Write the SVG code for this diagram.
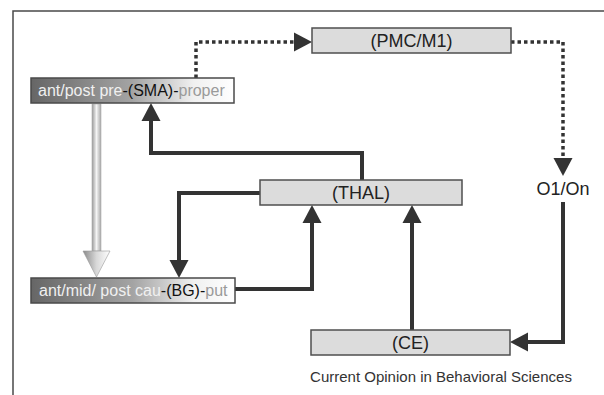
<svg xmlns="http://www.w3.org/2000/svg" width="604" height="395" viewBox="0 0 604 395">
<defs>
<style>
.frame{fill:none;stroke:#4a4a4a;stroke-width:1.5}
.box{fill:#dcdcdc;stroke:#4f4f4f;stroke-width:1.5}
.gbox{fill:url(#gbox);stroke:#4a4a4a;stroke-width:1.5}
.conn{fill:none;stroke:#333;stroke-width:4;stroke-linejoin:miter}
.dot{fill:none;stroke:#333;stroke-width:3.5;stroke-dasharray:3.5 3}
.lbl{font-family:"Liberation Sans",Arial,sans-serif;font-size:18px;fill:#222}
.glbl{font-family:"Liberation Sans",Arial,sans-serif;font-size:16px}
.cap{font-family:"Liberation Sans",Arial,sans-serif;font-size:15px;fill:#333}
</style>
<linearGradient id="gbox" x1="0" y1="0" x2="1" y2="0">
<stop offset="0" stop-color="#666666"/>
<stop offset="0.5" stop-color="#a4a4a4"/>
<stop offset="0.8" stop-color="#f0f0f0"/>
<stop offset="1" stop-color="#ffffff"/>
</linearGradient>
<linearGradient id="shaft" x1="0" y1="0" x2="1" y2="0">
<stop offset="0" stop-color="#9a9a9a"/>
<stop offset="0.5" stop-color="#f4f4f4"/>
<stop offset="1" stop-color="#a8a8a8"/>
</linearGradient>
<linearGradient id="head" x1="0" y1="0" x2="1" y2="0">
<stop offset="0" stop-color="#8a8a8a"/>
<stop offset="0.5" stop-color="#d8d8d8"/>
<stop offset="1" stop-color="#ffffff"/>
</linearGradient>
<marker id="ah" markerUnits="userSpaceOnUse" markerWidth="20" markerHeight="20" refX="0" refY="10" orient="auto">
<path d="M0,0.5 L18,10 L0,19.5 Z" fill="#333"/>
</marker>
</defs>
<rect width="604" height="395" fill="#fff"/>
<path class="frame" d="M13,395 V11 H604"/>

<g id="connectors">
<path class="dot" d="M196,78 V42 H294" marker-end="url(#ah)"/>
<path class="dot" d="M511,42 H563 V158" marker-end="url(#ah)"/>
<path class="conn" d="M563,202 V342 H528" marker-end="url(#ah)"/>
<path class="conn" d="M412,330 V223" marker-end="url(#ah)"/>
<path class="conn" d="M362,180 V153 H151 V121" marker-end="url(#ah)"/>
<path class="conn" d="M260,193 H179 V260" marker-end="url(#ah)"/>
<path class="conn" d="M235,289 H312 V223" marker-end="url(#ah)"/>
<g id="hollow-arrow">
<rect x="92" y="104" width="9" height="147" fill="url(#shaft)" stroke="#aaa" stroke-width="0.6"/>
<path d="M83,251 H110 L96.5,277 Z" fill="url(#head)" stroke="#999" stroke-width="0.6"/>
</g>
</g>

<g id="pmc">
<rect class="box" x="312" y="28" width="199" height="25"/>
<text class="lbl" x="411.5" y="47" text-anchor="middle">(PMC/M1)</text>
</g>
<g id="sma">
<rect class="gbox" x="31" y="78" width="203" height="25"/>
<text class="glbl" x="38" y="96"><tspan fill="#f0f0f0">ant/post pre</tspan><tspan fill="#111">-(SMA)-</tspan><tspan fill="#9a9a9a">proper</tspan></text>
</g>
<g id="thal">
<rect class="box" x="260" y="180" width="202" height="25"/>
<text class="lbl" x="361" y="199" text-anchor="middle">(THAL)</text>
</g>
<g id="o1on">
<text class="lbl" x="563" y="195" text-anchor="middle" font-size="17">O1/On</text>
</g>
<g id="bg">
<rect class="gbox" x="31" y="278" width="204" height="25"/>
<text class="glbl" x="39" y="296"><tspan fill="#f0f0f0">ant/mid/ post cau</tspan><tspan fill="#111">-(BG)-</tspan><tspan fill="#9a9a9a">put</tspan></text>
</g>
<g id="ce">
<rect class="box" x="311" y="330" width="199" height="25"/>
<text class="lbl" x="410.5" y="349" text-anchor="middle">(CE)</text>
</g>
<text class="cap" x="441" y="382" text-anchor="middle">Current Opinion in Behavioral Sciences</text>
</svg>
